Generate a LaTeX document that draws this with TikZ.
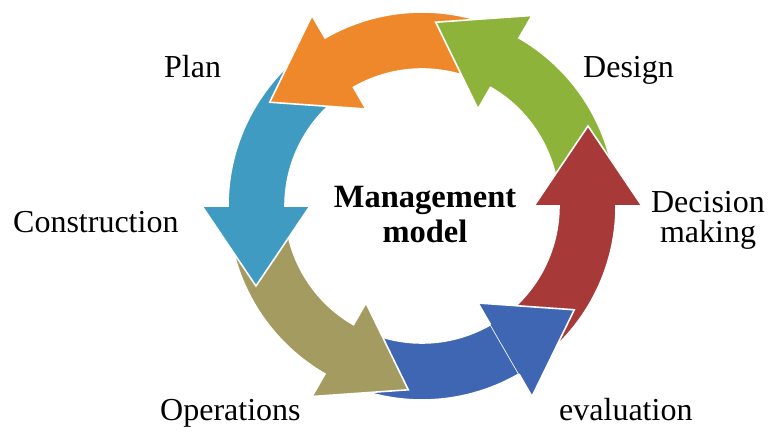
\documentclass[tikz,border=0pt]{standalone}
\usepackage{fontspec}
\setmainfont{Liberation Serif}
\definecolor{cOrange}{RGB}{238,136,42}
\definecolor{cGreen}{RGB}{141,179,58}
\definecolor{cRed}{RGB}{167,57,57}
\definecolor{cBlue}{RGB}{62,102,178}
\definecolor{cOlive}{RGB}{163,155,95}
\definecolor{cCyan}{RGB}{64,155,195}
\newcommand{\cycarrow}[2]{%
  \path[arrowbody, fill=#2] ({#1-60}:194pt) arc[start angle={#1-60}, end angle={#1}, radius=194pt]
    -- ({#1}:220pt) -- ({#1+25.73}:184.3pt) -- ({#1}:112pt) -- ({#1}:137pt)
    arc[start angle={#1}, end angle={#1-60}, radius=137pt] -- cycle;}
\begin{document}
\begin{tikzpicture}[x=1pt,y=1pt,
  arrowbody/.style={draw=white, line width=1.6pt},
  lbl/.style={inner sep=0pt, font=\fontsize{32pt}{30pt}\selectfont},
  ctr/.style={inner sep=0pt, font=\fontsize{32.5pt}{30pt}\selectfont\bfseries}]
\useasboundingbox[fill=white] (-422,-227) rectangle (347,206);
% arrows, drawn so that each head lies over the next tail
\cycarrow{300}{cBlue}
\cycarrow{240}{cOlive}
\cycarrow{180}{cCyan}
\cycarrow{120}{cOrange}
\cycarrow{60}{cGreen}
\cycarrow{0}{cRed}
% blue head again, above the red tail
\fill[cBlue] (300:220pt) -- (325.73:184.3pt) -- (300:112pt) -- cycle;
\draw[white, line width=1.6pt] (300:137pt) -- (300:112pt) -- (325.73:184.3pt) -- (300:220pt) -- (300:194pt);
% labels
\node[lbl, anchor=base west] (plan) at (-258,128) {Plan};
\node[lbl, anchor=base west] (constr) at (-409,-27) {Construction};
\node[lbl, anchor=base west] (design) at (161,128) {Design};
\node[lbl, anchor=base] (dec) at (286,-7) {Decision};
\node[lbl, anchor=base] (mak) at (286,-37) {making};
\node[lbl, anchor=base west] (oper) at (-262,-215) {Operations};
\node[lbl, anchor=base west] (eval) at (137,-215) {evaluation};
\node[ctr, anchor=base] (mgmt) at (3,-2) {Management};
\node[ctr, anchor=base] (model) at (3,-37) {model};
\end{tikzpicture}
\end{document}
